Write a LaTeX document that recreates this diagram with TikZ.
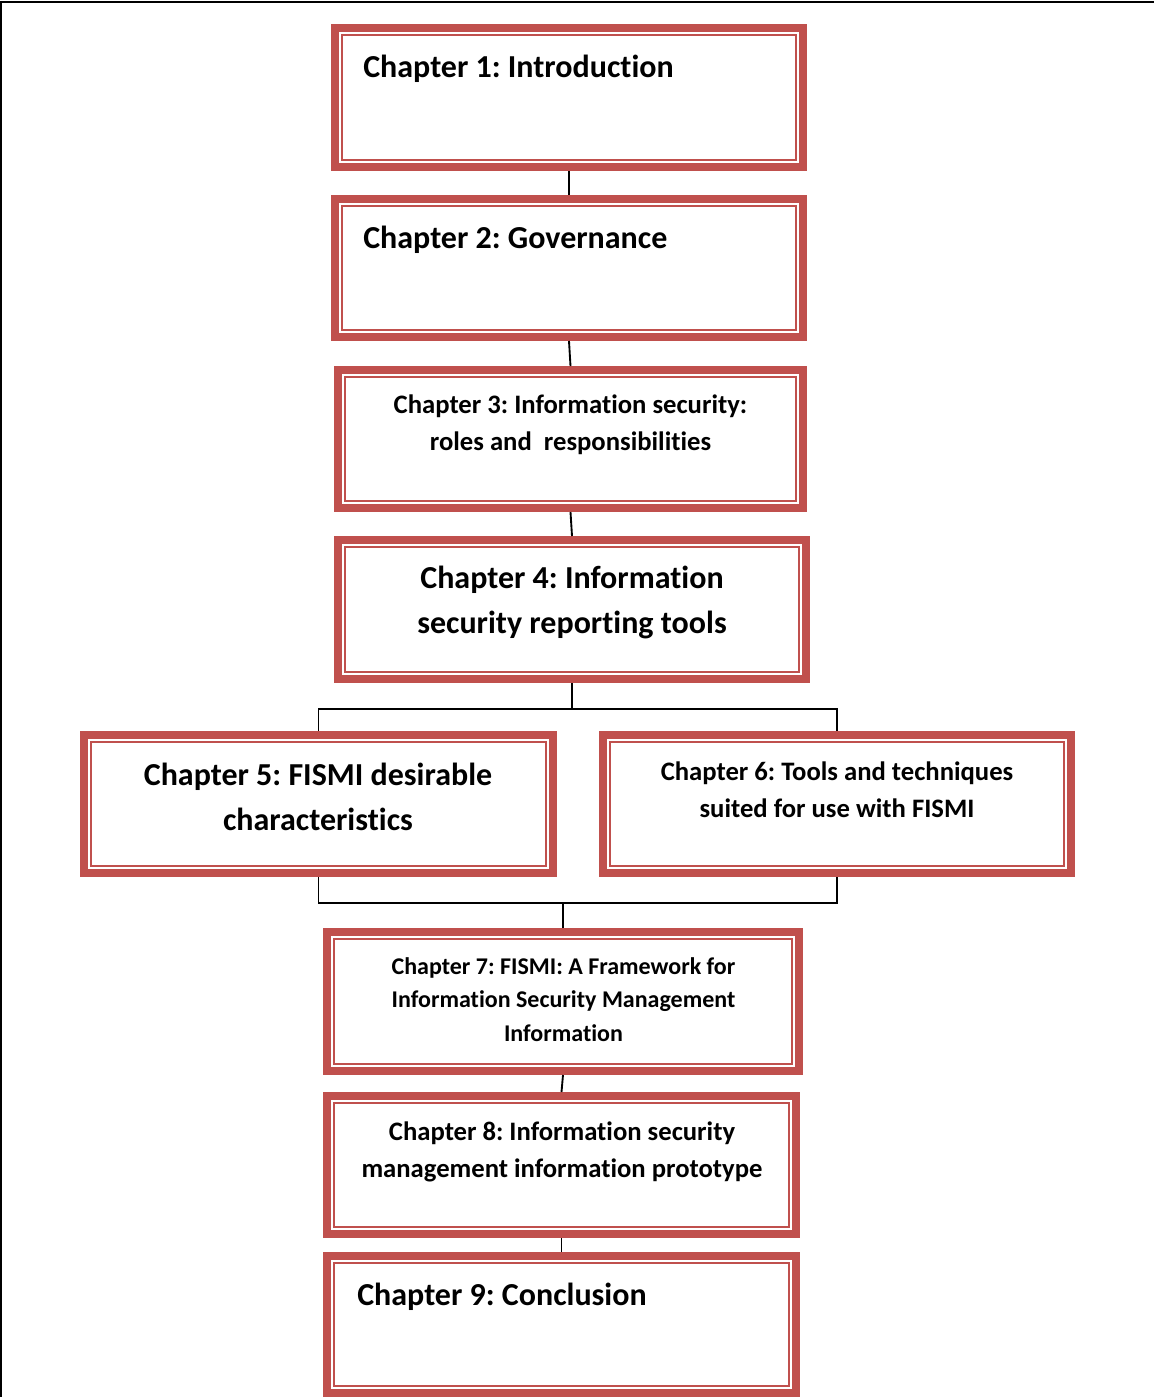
\documentclass[tikz,border=0pt]{standalone}
\usepackage{fontspec}
\setmainfont{Carlito}[RawFeature=-liga]
\frenchspacing
\usetikzlibrary{fit}
\definecolor{chred}{HTML}{C0504D}
\tikzset{
  chbox/.style={rectangle, draw=chred, line width=6pt, inner sep=-3pt, outer sep=3pt,
    path picture={\draw[chred, line width=1.5pt]
      ([xshift=5.25pt,yshift=-5.25pt]path picture bounding box.north west) rectangle
      ([xshift=-5.25pt,yshift=5.25pt]path picture bounding box.south east);}},
  conn/.style={draw=black, line width=1.4pt},
  bigtxt/.style={font=\fontsize{24}{33.75}\selectfont\bfseries\frenchspacing, inner sep=0pt, align=center},
  medtxt/.style={font=\fontsize{20}{27.75}\selectfont\bfseries\frenchspacing, inner sep=0pt, align=center},
  smalltxt/.style={font=\fontsize{18}{25.1}\selectfont\bfseries\frenchspacing, inner sep=0pt, align=center}
}
\begin{document}
\begin{tikzpicture}[x=0.75pt,y=-0.75pt]
\useasboundingbox (0,0) rectangle (1154,1397);
% frame
\draw[line width=1.8pt] (1,1400) -- (1,2) -- (1156,2);
% boxes
\node[chbox, fit={(331,24) (807,171)}] (b1) {};
\node[chbox, fit={(331,195) (807,341)}] (b2) {};
\node[chbox, fit={(334,366) (807,512)}] (b3) {};
\node[chbox, fit={(334,536) (810,683)}] (b4) {};
\node[chbox, fit={(80,731) (557,877)}] (b5) {};
\node[chbox, fit={(599,731) (1075,877)}] (b6) {};
\node[chbox, fit={(323,928) (803,1075)}] (b7) {};
\node[chbox, fit={(323,1092) (800,1238)}] (b8) {};
\node[chbox, fit={(323,1252) (800,1397)}] (b9) {};
% texts (base anchor = baseline of last line)
\node[bigtxt, anchor=base west] (t1) at (363,77) {Chapter 1: Introduction};
\node[bigtxt, anchor=base west] (t2) at (363,248) {Chapter 2: Governance};
\node[medtxt, anchor=base] (t3) at (570.5,450) {Chapter 3: Information security:\\roles and~ responsibilities};
\node[bigtxt, anchor=base] (t4) at (572,633) {Chapter 4: Information\\security reporting tools};
\node[bigtxt, anchor=base] (t5) at (318,830) {Chapter 5: FISMI desirable\\characteristics};
\node[medtxt, anchor=base] (t6) at (837,817) {Chapter 6: Tools and techniques\\suited for use with FISMI};
\node[smalltxt, anchor=base] (t7) at (563.5,1041) {Chapter 7: FISMI: A Framework for\\Information Security Management\\Information};
\node[medtxt, anchor=base] (t8) at (562,1177) {Chapter 8: Information security\\management information prototype};
\node[bigtxt, anchor=base west] (t9) at (357,1305) {Chapter 9: Conclusion};
% connectors
\coordinate (f1) at (572,709);
\coordinate (f2) at (563,903);
\draw[conn] (b1.south) -- (b2.north);
\draw[conn] (b2.south) -- (b3.north);
\draw[conn] (b3.south) -- (b4.north);
\draw[conn] (b4.south) -- (b4.south |- f1);
\draw[conn] (b5.north) -- (b5.north |- f1) -- (b6.north |- f1) -- (b6.north);
\draw[conn] (b5.south) -- (b5.south |- f2) -- (b6.south |- f2) -- (b6.south);
\draw[conn] (b7.north) -- (b7.north |- f2);
\draw[conn] (b7.south) -- (b8.north);
\draw[conn] (b8.south) -- (b9.north);
\end{tikzpicture}
\end{document}
